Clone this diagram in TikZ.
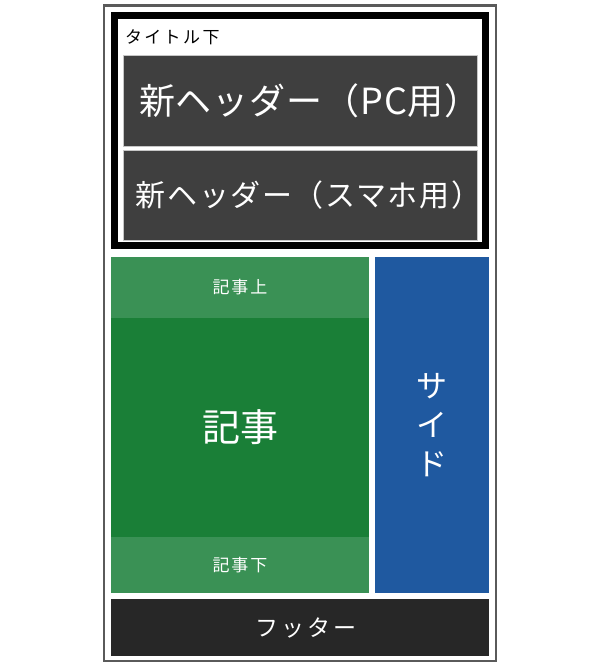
\documentclass[tikz,border=0pt]{standalone}
\usepackage{fontspec}
\setmainfont{Noto Sans CJK JP}
\usetikzlibrary{positioning}

\definecolor{pageGray}{HTML}{5A5A5A}
\definecolor{headGray}{HTML}{3F3F3F}
\definecolor{artLight}{HTML}{3A9155}
\definecolor{artDark}{HTML}{1A7F37}
\definecolor{sideBlue}{HTML}{1F59A0}
\definecolor{footGray}{HTML}{272727}

\newcommand{\jpsize}[3]{\fontsize{#1}{#2}\selectfont\addfontfeature{LetterSpace=#3}}
\newcommand{\nudge}[2]{\hspace*{#1}#2\hspace*{-#1}}

\begin{document}
\begin{tikzpicture}[x=1pt, y=-1pt, inner sep=0pt, outer sep=0pt,
header/.style={rectangle, fill=headGray, draw=gray!45, line width=0.8pt,
  minimum width=354pt, text=white},
block/.style={rectangle, text=white}]
\useasboundingbox (0,0) rectangle (600,667);

\node [draw=pageGray, line width=2.5pt, minimum width=392pt,
  minimum height=655.5pt] (page) at (299.75,333) {};
\node [draw=black, line width=7pt, minimum width=371pt,
  minimum height=230pt] (title_area) at (300,130.5) {};
\node [anchor=west, font=\jpsize{17}{19}{14}] (title_label)
  at (125,37) {タイトル下};

\node [header, minimum height=91pt, font=\jpsize{36}{40}{2.5}]
  (pc_header) at (300,100.5) {\nudge{10pt}{新ヘッダー（PC用）}};
\node [header, minimum height=90pt, font=\jpsize{30}{34}{5.5}]
  (sp_header) [below = 4pt of pc_header] {\nudge{8.5pt}{新ヘッダー（スマホ用）}};

\node [block, fill=artLight, minimum width=258pt, minimum height=61pt,
  font=\jpsize{17}{19}{11}] (art_top) at (240,287.5) {記事上};
\node [block, fill=artDark, minimum width=258pt, minimum height=219pt,
  font=\jpsize{38}{40}{0}] (art_main) [below = 0pt of art_top] {記事};
\node [block, fill=artLight, minimum width=258pt, minimum height=56pt,
  font=\jpsize{17}{19}{11}] (art_bot) [below = 0pt of art_main] {記事下};

\node [block, fill=sideBlue, minimum width=114pt, minimum height=336pt,
  align=center, font=\jpsize{31}{39}{0}] (side) at (432,425)
  {サ\\イ\\ド};

\node [block, fill=footGray, minimum width=378pt, minimum height=57pt,
  font=\jpsize{23}{25}{13}] (footer) at (300,627.5) {\nudge{6pt}{フッター}};
\end{tikzpicture}
\end{document}
